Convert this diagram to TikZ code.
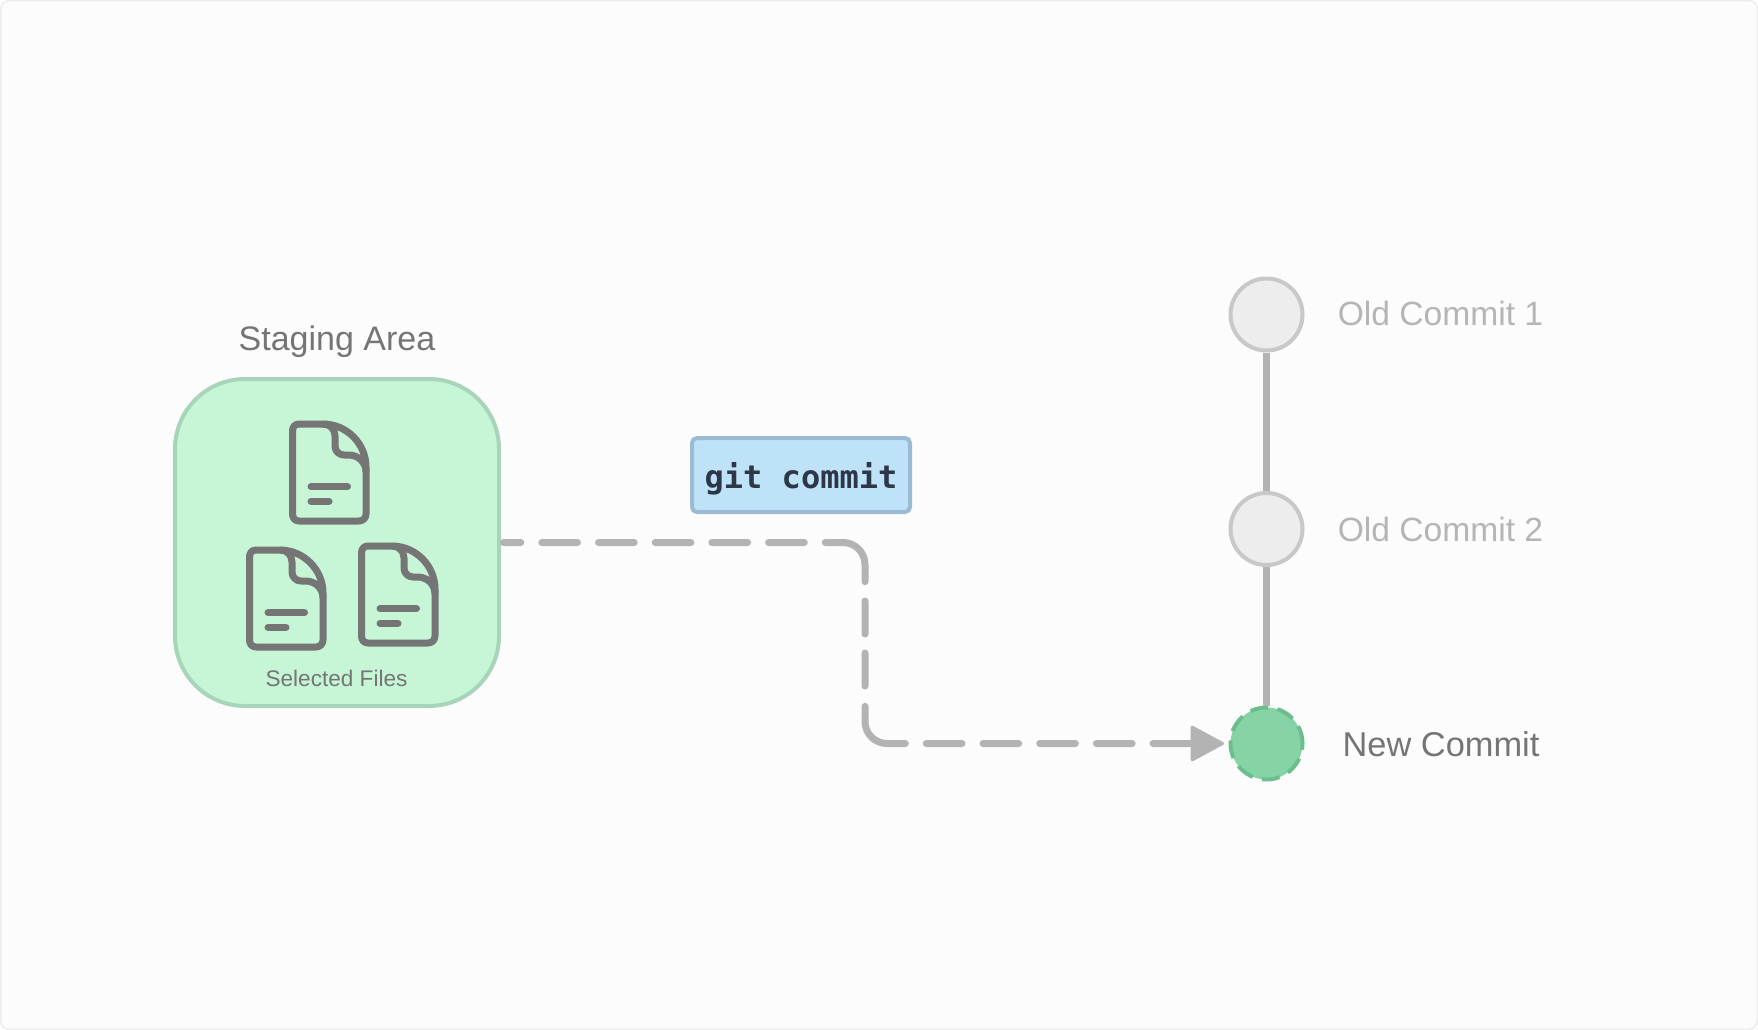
\documentclass[tikz,border=0pt]{standalone}
\usepackage{fontspec}
\setmainfont{Liberation Sans}
\setmonofont{DejaVu Sans Mono}
\usetikzlibrary{arrows.meta}

\definecolor{pagebg}{HTML}{FCFCFC}
\definecolor{pageline}{HTML}{EDEDED}
\definecolor{stagefill}{HTML}{C6F6D5}
\definecolor{stageline}{HTML}{A8D5BA}
\definecolor{cmdfill}{HTML}{BEE3F8}
\definecolor{cmdline}{HTML}{9ABBD3}
\definecolor{cmdtext}{HTML}{2D3748}
\definecolor{iconline}{HTML}{757575}
\definecolor{wireline}{HTML}{B3B3B3}
\definecolor{oldfill}{HTML}{EDEDED}
\definecolor{oldline}{HTML}{C8C8C8}
\definecolor{oldtext}{HTML}{B5B5B5}
\definecolor{newfill}{HTML}{86D3A7}
\definecolor{newline}{HTML}{6CBF8C}

\tikzset{
    oldcommit/.style={circle, draw=oldline, fill=oldfill, line width=4pt, minimum size=72pt, inner sep=0pt},
    newcommit/.style={circle, draw=newline, fill=newfill, line width=4pt, minimum size=72pt, inner sep=0pt,
        dash pattern=on 18pt off 9.5pt},
    oldlabel/.style={anchor=base, text=oldtext, font=\fontsize{33.6}{38}\selectfont},
    newlabel/.style={anchor=base, text=iconline, font=\fontsize{34.4}{38}\selectfont},
    wire/.style={draw=wireline, line width=7pt},
    wiredash/.style={line cap=round, dash pattern=on 17.3pt off 21pt
        on 35.7pt off 21pt on 35.7pt off 21pt on 35.7pt off 21pt on 35.7pt off 21pt on 35.7pt off 21pt
        on 69.4pt off 19.3pt on 33pt off 19pt on 33pt off 20.4pt on 67.9pt off 21pt
        on 35.7pt off 21pt on 35.7pt off 21pt on 35.7pt off 21pt on 35.7pt off 21pt on 100pt off 1pt},
    docpage/.pic={
        \draw[iconline, line width=7pt, line join=round]
            (6.5,0) -- (30.5,0) .. controls (54,0) and (73.5,19.5) .. (73.5,43)
            -- (73.5,90) .. controls (73.5,94) and (70.5,97) .. (66.5,97)
            -- (6.5,97) .. controls (2.5,97) and (0,94) .. (0,90)
            -- (0,7) .. controls (0,3) and (2.5,0) .. (6.5,0) -- cycle;
        \draw[iconline, line width=7pt, line join=round]
            (30.5,0) .. controls (37.5,0) and (42.5,5) .. (42.5,12)
            -- (42.5,22) .. controls (42.5,27) and (46.5,31) .. (51.5,31)
            -- (56,31) .. controls (66,31) and (73.5,38.5) .. (73.5,48);
        \draw[iconline, line width=7pt, line cap=round] (18.5,62.7) -- (55,62.7);
        \draw[iconline, line width=7pt, line cap=round] (18.5,77.3) -- (36.5,77.3);
    }
}

\begin{document}
\begin{tikzpicture}[x=1pt,y=-1pt]
    \useasboundingbox (0,0) rectangle (1758,1030);
    \draw[pageline, fill=pagebg, line width=1.5pt, rounded corners=8pt] (0.75,0.75) rectangle (1757.25,1029.25);

    \node[draw=stageline, fill=stagefill, line width=4pt, rounded corners=70pt,
        minimum width=324pt, minimum height=327pt, inner sep=0pt] (stage) at (337,542.5) {};
    \node[anchor=base, text=iconline, font=\fontsize{34}{38}\selectfont] (stagetitle) at (337,350.7) {Staging Area};
    \node[anchor=base, text=iconline, font=\fontsize{22.6}{26}\selectfont] (stagefiles) at (336.5,686.7) {Selected Files};

    \foreach \docx/\docy in {292.5/424, 249.5/550, 361.5/546}
        \pic at (\docx,\docy) {docpage};

    \node[draw=cmdline, fill=cmdfill, line width=4pt, rounded corners=5pt,
        minimum width=218pt, minimum height=74pt, inner sep=0pt, text height=30pt, text depth=4pt,
        text=cmdtext, font=\fontsize{32}{36}\selectfont\ttfamily\bfseries] (gitcmd) at (801,475) {git commit};

    \node[oldcommit] (old1) at (1266.5,314.5) {};
    \node[oldcommit] (old2) at (1266.5,529) {};
    \node[newcommit] (new) at (1266.5,743.5) {};

    \draw[wire] (old1) -- (old2);
    \draw[wire] (old2) -- (new);

    \node[oldlabel] (old1label) at (1440.5,325.7) {Old Commit 1};
    \node[oldlabel] (old2label) at (1440.5,541) {Old Commit 2};
    \node[newlabel] (newlabel) at (1441,756) {New Commit};

    \coordinate (bendtop) at (865,542.5);
    \coordinate (bendlow) at (865,743.5);
    \draw[wire, wiredash, rounded corners=22pt, shorten <=2.5pt, shorten >=4.5pt,
        -{Triangle[length=35pt, width=37pt, line width=3pt, round]}]
        (stage.east) -- (bendtop) -- (bendlow) -- (new.west);
\end{tikzpicture}
\end{document}
